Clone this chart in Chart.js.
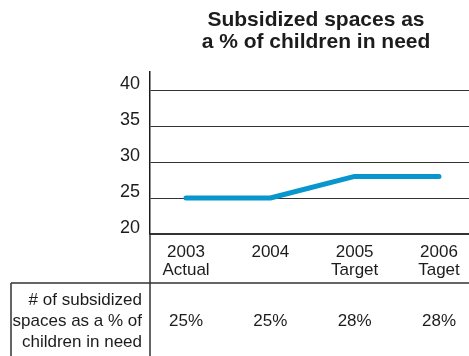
<!DOCTYPE html>
<html>
<head>
<meta charset="utf-8">
<script src="https://cdn.jsdelivr.net/npm/chart.js@4/dist/chart.umd.min.js"></script>
<style>
  html, body { margin: 0; padding: 0; background: #fff; }
  #wrap { width: 469px; height: 356px; position: relative; }
</style>
</head>
<body>
<div id="wrap"><canvas id="chart"></canvas></div>
<script>
/* Chart data */
const years = [2003, 2004, 2005, 2006];
const yearNotes = ['Actual', '', 'Target', 'Taget'];
const shares = [25, 25, 28, 28];          // % of children in need
const yTicks = [20, 25, 30, 35, 40];
const titleLines = ['Subsidized spaces as', 'a % of children in need'];
const rowLabel = ['# of subsidized', 'spaces as a % of', 'children in need'];

const INK = '#1c1c1c';
const RULE = '#333';
const FONT = "'Liberation Sans', Arial, sans-serif";

/* Title, table row and the extra rules under the plot */
const tablePlugin = {
    id: 'table',
    afterDraw(chart) {
        const { ctx, chartArea: area, scales } = chart;
        const H = chart.height, W = chart.width;
        const rowTop = 283;
        ctx.save();

        // title
        ctx.fillStyle = INK;
        ctx.font = 'bold 21px ' + FONT;
        ctx.textAlign = 'center';
        ctx.textBaseline = 'middle';
        titleLines.forEach((t, i) => ctx.fillText(t, 316, 20 + i * 22));

        // rules
        ctx.strokeStyle = RULE;
        ctx.lineWidth = 1.5;
        ctx.beginPath();
        ctx.moveTo(area.left, area.bottom);
        ctx.lineTo(area.left, H);
        ctx.moveTo(11, rowTop);
        ctx.lineTo(W, rowTop);
        ctx.moveTo(11, rowTop);
        ctx.lineTo(11, H);
        ctx.stroke();

        // row label
        ctx.font = '17px ' + FONT;
        ctx.textAlign = 'right';
        rowLabel.forEach((t, i) => ctx.fillText(t, 142, 300 + i * 21));

        // values per year
        ctx.textAlign = 'center';
        years.forEach((y, i) => {
            ctx.fillText(shares[i] + '%', scales.x.getPixelForValue(y), 321);
        });
        ctx.restore();
    }
};

const ctx = document.getElementById('chart').getContext('2d');
new Chart(ctx, {
    type: 'line',
    data: {
        datasets: [{
            data: years.map((y, i) => ({ x: y, y: shares[i] })),
            borderColor: '#0896cc',
            borderWidth: 5,
            borderCapStyle: 'round',
            borderJoinStyle: 'round',
            pointRadius: 0,
            tension: 0
        }]
    },
    options: {
        responsive: true,
        maintainAspectRatio: false,
        animation: false,
        layout: { padding: { top: 72, left: 0, right: 0, bottom: 0 } },
        plugins: {
            legend: { display: false },
            tooltip: { enabled: false }
        },
        scales: {
            x: {
                type: 'linear',
                min: 2002.573,
                max: 2006.356,
                afterFit: s => { s.height = 122; },
                afterBuildTicks: s => { s.ticks = years.map(v => ({ value: v })); },
                grid: { display: false, drawTicks: false },
                border: { display: true, color: RULE, width: 1.5 },
                ticks: {
                    padding: 9,
                    color: INK,
                    font: { family: FONT, size: 17, lineHeight: 1.08 },
                    callback: v => {
                        const i = years.indexOf(v);
                        return [String(v), yearNotes[i]];
                    }
                }
            },
            y: {
                min: 20,
                max: 42.5,
                afterFit: s => { s.width = 150; },
                afterBuildTicks: s => { s.ticks = yTicks.map(v => ({ value: v })); },
                grid: { color: RULE, lineWidth: 1, drawTicks: false },
                border: { display: true, color: INK, width: 1.5 },
                ticks: {
                    padding: 10,
                    labelOffset: -6,
                    color: INK,
                    font: { family: FONT, size: 18 }
                }
            }
        }
    },
    plugins: [tablePlugin]
});
</script>
</body>
</html>
